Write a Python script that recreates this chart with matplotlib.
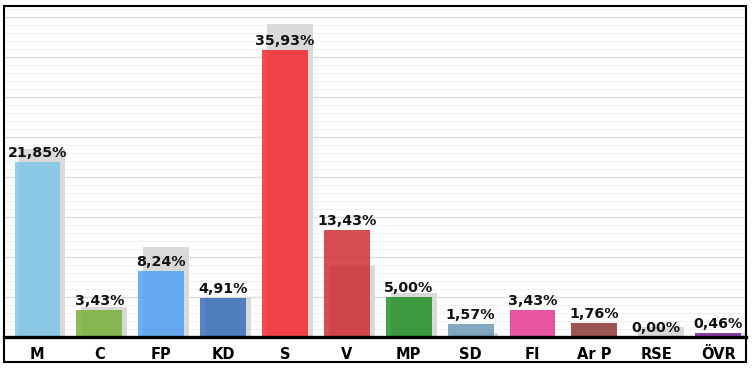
import matplotlib
matplotlib.use("Agg")
from matplotlib import pyplot as plt
import matplotlib.patches as mpatches
import matplotlib.ticker as ticker
import matplotlib.colors as mcolors
import numpy as np

parties = ['M', 'C', 'FP', 'KD', 'S', 'V', 'MP', 'SD', 'FI', 'Ar P', 'RSE', 'ÖVR']
# result in percent and the previous result (grey shadow bars)
result = [21.85, 3.43, 8.24, 4.91, 35.93, 13.43, 5.00, 1.57, 3.43, 1.76, 0.00, 0.46]
previous = [23.45, 3.8, 11.3, 5.0, 39.1, 8.9, 5.45, 0.55, 0.0, 0.0, 1.3, 0.5]
colors = ['#8bc8e6', '#86b552', '#64aaf0', '#507dbe', '#f04246', '#d04549',
          '#3d9a40', '#7ba0bb', '#e04c98', '#964c4c', '#aaaaaa', '#8a3ca0']
shadow = '#d9d9d9'
alpha = 0.8


def base_color(c):
    # colour that looks like c when drawn with alpha over the grey shadow
    rgb = np.array(mcolors.to_rgb(c))
    bg = np.array(mcolors.to_rgb(shadow))
    return tuple(np.clip((rgb - (1 - alpha) * bg) / alpha, 0, 1))


fig = plt.figure(figsize=(7.53, 3.73), dpi=100)
W, H = 753, 373
ax = fig.add_axes([4 / W, 1 - 337 / H, 742 / W, 331 / H])

x = np.arange(len(parties))
width = 0.74
offset = 0.08

ax.bar(x + offset, previous, width=width, color=shadow, zorder=2)
ax.bar(x, result, width=width, color=[base_color(c) for c in colors],
       alpha=alpha, zorder=3)

for xi, v in zip(x, result):
    label = f"{v:.2f}%".replace('.', ',')
    ax.text(xi, v + 0.25, label, ha='center', va='bottom', fontsize=10.3,
            fontweight='bold', color='#111111', zorder=5)

ax.set_xlim(-0.54, 11.45)
ax.set_ylim(0, 41.375)
ax.yaxis.set_major_locator(ticker.MultipleLocator(5))
ax.yaxis.set_minor_locator(ticker.MultipleLocator(1))
ax.grid(axis='y', which='major', color='#dcdcdc', lw=1.0, zorder=0)
ax.grid(axis='y', which='minor', color='#f0f0f0', lw=0.8, zorder=0)
ax.tick_params(axis='y', which='both', left=False, labelleft=False)

ax.set_xticks(x)
ax.set_xticklabels(parties, fontsize=10.5, fontweight='bold')
ax.tick_params(axis='x', length=0, pad=7)

for side in ['left', 'top', 'right']:
    ax.spines[side].set_visible(False)
ax.spines['bottom'].set_linewidth(2.4)
ax.spines['bottom'].set_zorder(6)

# outer frame around plot and labels
frame = mpatches.Rectangle((4 / W, 1 - 362 / H), 742 / W, 356 / H,
                           transform=fig.transFigure, fill=False,
                           lw=1.5, edgecolor='black')
fig.patches.append(frame)

plt.savefig("out.png", dpi=100)
